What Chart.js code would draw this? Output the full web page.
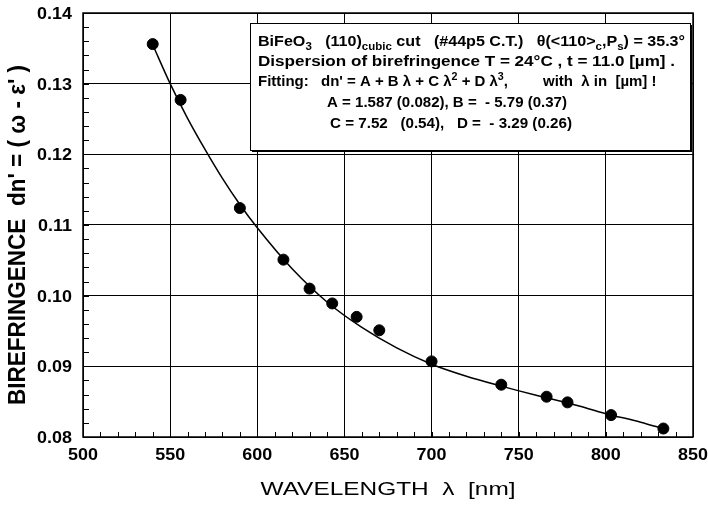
<!DOCTYPE html>
<html>
<head>
<meta charset="utf-8">
<script src="https://cdn.jsdelivr.net/npm/chart.js@4.4.1/dist/chart.umd.min.js"></script>
<style>
  html, body { margin: 0; padding: 0; background: #fff; }
  #wrap { width: 708px; height: 508px; }
</style>
</head>
<body>
<div id="wrap"><canvas id="c" width="708" height="508"></canvas></div>
<script>
// measured points
const wavelengths = [540, 556, 590, 615, 630, 643, 657, 670, 700, 740, 766, 778, 803, 833];
const birefringence = [0.1356, 0.1277, 0.1124, 0.1051, 0.1010, 0.0989, 0.0970, 0.0951, 0.0907, 0.0874, 0.0857, 0.0849, 0.0831, 0.0812];

// fitted curve
const fitWavelengths = [540, 550, 560, 570, 580, 590, 600, 620, 640, 660, 680, 700, 720, 740, 760, 780, 800, 820, 834];
const fitValues = [0.1355, 0.1300, 0.1251, 0.1207, 0.1166, 0.1129, 0.1096, 0.1038, 0.0991, 0.0955, 0.0926, 0.0903, 0.0886, 0.0872, 0.0859, 0.0847, 0.0833, 0.0821, 0.0811];

const xTitle = 'WAVELENGTH  \u03bb  [nm]';
const yTitle = 'BIREFRINGENCE  dn\' = ( \u03c9 - \u03b5\' )';

const FONT = '"Liberation Sans", Arial, sans-serif';

// inset box text: each group is [left, right or null, parts], parts are [text, 'n' | 'sub' | 'sup']
// a null right edge means "draw with the default stretch"
const boxLines = [
  { y: 46, groups: [
    [258, 685, [['BiFeO', 'n'], ['3', 'sub'], ['   (110)', 'n'], ['cubic', 'sub'], [' cut   (#44p5 C.T.)   \u03b8(<110>', 'n'], ['c', 'sub'], [',P', 'n'], ['s', 'sub'], [') = 35.3\u00b0', 'n']]]
  ] },
  { y: 66, groups: [
    [258, 675, [['Dispersion of birefringence T = 24\u00b0C , t = 11.0 [\u00b5m] .', 'n']]]
  ] },
  { y: 86, groups: [
    [258, null, [['Fitting:', 'n']]],
    [321, null, [['dn\' = A + B \u03bb + C \u03bb', 'n'], ['2', 'sup'], [' + D \u03bb', 'n'], ['3', 'sup'], [',', 'n']]],
    [543, null, [['with  \u03bb in  [\u00b5m] !', 'n']]]
  ] },
  { y: 107, groups: [
    [327, 567, [['A = 1.587 (0.082), B =  - 5.79 (0.37)', 'n']]]
  ] },
  { y: 128, groups: [
    [330, 572, [['C = 7.52   (0.54),   D =  - 3.29 (0.26)', 'n']]]
  ] }
];

function fontFor(size, bold) {
  return (bold ? 'bold ' : '') + size + 'px ' + FONT;
}

// draws text squeezed/stretched horizontally, returns its drawn width
function putText(ctx, text, x, y, o) {
  ctx.save();
  ctx.font = fontFor(o.size, o.bold);
  ctx.translate(x, y);
  if (o.rotate) ctx.rotate(o.rotate);
  ctx.scale(o.sx || 1, 1);
  ctx.textAlign = o.align || 'left';
  ctx.textBaseline = 'alphabetic';
  ctx.fillStyle = '#000';
  ctx.fillText(text, 0, 0);
  const w = ctx.measureText(text).width * (o.sx || 1);
  ctx.restore();
  return w;
}

function widthOf(ctx, text, size, bold) {
  ctx.save();
  ctx.font = fontFor(size, bold);
  const w = ctx.measureText(text).width;
  ctx.restore();
  return w;
}

const partSize = mode => (mode === 'n' ? 14 : 10);

const framePlugin = {
  id: 'frame',
  afterDraw(chart) {
    const { ctx, chartArea: a, scales: { x, y } } = chart;
    ctx.save();
    ctx.strokeStyle = '#000';
    ctx.lineWidth = 1.5;
    ctx.strokeRect(a.left, a.top, a.right - a.left, a.bottom - a.top);

    // minor ticks, pointing inwards
    ctx.lineWidth = 1;
    ctx.beginPath();
    for (let i = 0; i <= 35; i++) {
      const px = Math.round(x.getPixelForValue(500 + i * 10)) + 0.5;
      ctx.moveTo(px, a.bottom);
      ctx.lineTo(px, a.bottom - 5);
    }
    for (let i = 0; i <= 30; i++) {
      const py = Math.round(y.getPixelForValue(0.08 + i * 0.002)) + 0.5;
      ctx.moveTo(a.left, py);
      ctx.lineTo(a.left + 6, py);
    }
    ctx.stroke();

    // tick labels (the scan is stretched sideways)
    x.ticks.forEach(t => {
      putText(ctx, String(t.value), x.getPixelForValue(t.value), a.bottom + 23, { size: 16, bold: true, sx: 1.12, align: 'center' });
    });
    y.ticks.forEach(t => {
      putText(ctx, t.value.toFixed(2), a.left - 11, y.getPixelForValue(t.value) + 6, { size: 16, bold: true, sx: 1.12, align: 'right' });
    });

    // axis titles
    const xs = 255 / widthOf(ctx, xTitle, 19, false);
    putText(ctx, xTitle, (a.left + a.right) / 2, 495, { size: 19, sx: xs, align: 'center' });
    const ys = 340 / widthOf(ctx, yTitle, 23, true);
    putText(ctx, yTitle, 25, 235, { size: 23, bold: true, sx: ys, align: 'center', rotate: -Math.PI / 2 });

    // inset box
    const bx = 250, by = 23, bw = 440, bh = 127;
    ctx.fillStyle = '#000';
    ctx.fillRect(bx + 2, by + 2, bw, bh);
    ctx.fillStyle = '#fff';
    ctx.fillRect(bx, by, bw, bh);
    ctx.strokeStyle = '#000';
    ctx.lineWidth = 1;
    ctx.strokeRect(bx + 0.5, by + 0.5, bw, bh);

    boxLines.forEach(line => {
      line.groups.forEach(([x0, x1, parts]) => {
        const natural = parts.reduce((s, [t, m]) => s + widthOf(ctx, t, partSize(m), true), 0);
        const sx = x1 === null ? 1.07 : (x1 - x0) / natural;
        let cx = x0;
        parts.forEach(([t, m]) => {
          const dy = m === 'sub' ? 4 : m === 'sup' ? -6 : 0;
          cx += putText(ctx, t, cx, line.y + dy, { size: partSize(m), bold: true, sx });
        });
      });
    });
    ctx.restore();
  }
};

new Chart(document.getElementById('c'), {
  type: 'scatter',
  data: {
    datasets: [
      {
        label: 'fit',
        data: fitWavelengths.map((w, i) => ({ x: w, y: fitValues[i] })),
        showLine: true,
        borderColor: '#000',
        borderWidth: 1.5,
        pointRadius: 0,
        cubicInterpolationMode: 'monotone'
      },
      {
        label: 'measured',
        data: wavelengths.map((w, i) => ({ x: w, y: birefringence[i] })),
        backgroundColor: '#000',
        borderColor: '#000',
        pointRadius: 5.5
      }
    ]
  },
  options: {
    responsive: false,
    animation: false,
    layout: { padding: { top: 13, right: 15, left: 0, bottom: 0 } },
    plugins: { legend: { display: false }, tooltip: { enabled: false } },
    scales: {
      x: {
        type: 'linear',
        min: 500, max: 850,
        ticks: { stepSize: 50, display: false },
        grid: { color: '#000', lineWidth: 1, drawTicks: false },
        border: { display: false },
        afterFit(scale) { scale.height = 71; }
      },
      y: {
        min: 0.08, max: 0.14,
        ticks: { stepSize: 0.01, display: false },
        grid: { color: '#000', lineWidth: 1, drawTicks: false },
        border: { display: false },
        afterFit(scale) { scale.width = 83; }
      }
    }
  },
  plugins: [framePlugin]
});
</script>
</body>
</html>
